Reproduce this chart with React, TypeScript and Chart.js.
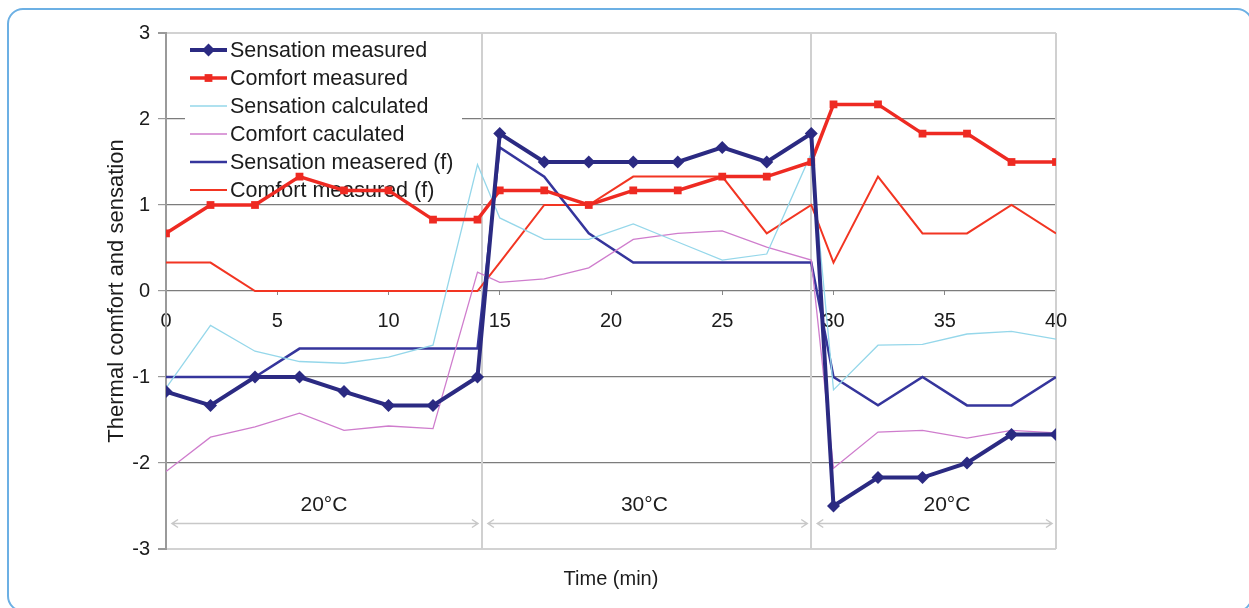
import React, { useEffect, useRef } from 'react';
import { Chart, registerables } from 'chart.js';

Chart.register(...registerables);

// ---- data ----
const times = [0, 2, 4, 6, 8, 10, 12, 14, 15, 17, 19, 21, 23, 25, 27, 29, 30, 32, 34, 36, 38, 40];

const sensationMeasured = [-1.17, -1.33, -1, -1, -1.17, -1.33, -1.33, -1, 1.83, 1.5, 1.5, 1.5, 1.5, 1.67, 1.5, 1.83, -2.5, -2.17, -2.17, -2, -1.67, -1.67];
const comfortMeasured = [0.67, 1, 1, 1.33, 1.17, 1.17, 0.83, 0.83, 1.17, 1.17, 1, 1.17, 1.17, 1.33, 1.33, 1.5, 2.17, 2.17, 1.83, 1.83, 1.5, 1.5];
const sensationCalculated = [-1.13, -0.4, -0.7, -0.82, -0.84, -0.77, -0.63, 1.47, 0.85, 0.6, 0.6, 0.78, 0.57, 0.36, 0.43, 1.6, -1.15, -0.63, -0.62, -0.5, -0.47, -0.56];
const comfortCalculated = [-2.1, -1.7, -1.58, -1.42, -1.62, -1.57, -1.6, 0.22, 0.1, 0.14, 0.27, 0.6, 0.67, 0.7, 0.51, 0.36, -2.06, -1.64, -1.62, -1.71, -1.62, -1.65];
const sensationMeasuredF = [-1, -1, -1, -0.67, -0.67, -0.67, -0.67, -0.67, 1.67, 1.33, 0.67, 0.33, 0.33, 0.33, 0.33, 0.33, -1, -1.33, -1, -1.33, -1.33, -1];
const comfortMeasuredF = [0.33, 0.33, 0, 0, 0, 0, 0, 0, 0.33, 1, 1, 1.33, 1.33, 1.33, 0.67, 1, 0.33, 1.33, 0.67, 0.67, 1, 0.67];

const seriesNames = [
  'Sensation measured',
  'Comfort measured',
  'Sensation calculated',
  'Comfort caculated',
  'Sensation measered (f)',
  'Comfort measured (f)',
];
const seriesValues = [
  sensationMeasured,
  comfortMeasured,
  sensationCalculated,
  comfortCalculated,
  sensationMeasuredF,
  comfortMeasuredF,
];

const xTickValues = [0, 5, 10, 15, 20, 25, 30, 35, 40];
const yTickValues = [-3, -2, -1, 0, 1, 2, 3];

const phaseBounds = [0, 14.2, 29, 40];
const phaseLabels = ['20°C', '30°C', '20°C'];
const phaseLabelX = [7.1, 21.5, 35.1];
const phaseLabelY = -2.49;
const phaseArrowY = -2.7;

const xTitle = 'Time (min)';
const yTitle = 'Thermal comfort and sensation';

// ---- styles ----
const FONT = '"Liberation Sans", Arial, sans-serif';
const TEXT = '#1c1c1c';
const seriesColors = ['#2b2a82', '#ee2a22', '#95d7ea', '#cf7dcd', '#35359c', '#f23522'];
const seriesWidths = [4, 3.5, 1.3, 1.3, 2.5, 2];
const seriesPoints: (string | false)[] = ['rectRot', 'rect', false, false, false, false];
const seriesRadii = [6.5, 5.5, 0, 0, 0, 0];

const decorPlugin = {
  id: 'decor',
  beforeDatasetsDraw(chart: any) {
    const { ctx, chartArea: a, scales } = chart;
    const xs = scales.x;
    const ys = scales.y;
    ctx.save();

    // right border of plot
    ctx.strokeStyle = '#d0d0d0';
    ctx.lineWidth = 2;
    ctx.beginPath();
    ctx.moveTo(a.right, a.top);
    ctx.lineTo(a.right, a.bottom);
    ctx.stroke();

    // phase separators
    for (let i = 1; i < phaseBounds.length - 1; i++) {
      const px = Math.round(xs.getPixelForValue(phaseBounds[i]));
      ctx.beginPath();
      ctx.moveTo(px, a.top);
      ctx.lineTo(px, a.bottom);
      ctx.stroke();
    }

    // arrows
    const ay = Math.round(ys.getPixelForValue(phaseArrowY)) + 0.5;
    ctx.strokeStyle = '#c8c8c8';
    ctx.lineWidth = 1.5;
    for (let i = 0; i < phaseBounds.length - 1; i++) {
      const x0 = xs.getPixelForValue(phaseBounds[i]) + 6;
      const x1 = xs.getPixelForValue(phaseBounds[i + 1]) - 4;
      ctx.beginPath();
      ctx.moveTo(x0, ay);
      ctx.lineTo(x1, ay);
      ctx.moveTo(x0 + 6, ay - 4);
      ctx.lineTo(x0, ay);
      ctx.lineTo(x0 + 6, ay + 4);
      ctx.moveTo(x1 - 6, ay - 4);
      ctx.lineTo(x1, ay);
      ctx.lineTo(x1 - 6, ay + 4);
      ctx.stroke();
    }

    // phase labels
    ctx.fillStyle = TEXT;
    ctx.font = '21px ' + FONT;
    ctx.textAlign = 'center';
    ctx.textBaseline = 'middle';
    for (let i = 0; i < phaseLabels.length; i++) {
      ctx.fillText(phaseLabels[i], xs.getPixelForValue(phaseLabelX[i]), ys.getPixelForValue(phaseLabelY));
    }

    // legend box
    const lx = 185;
    const ly = 36;
    const lw = 277;
    const lh = 166;
    ctx.fillStyle = '#ffffff';
    ctx.fillRect(lx, ly, lw, lh);
    ctx.font = '21.5px ' + FONT;
    ctx.textAlign = 'left';
    ctx.textBaseline = 'middle';
    const dsets = chart.data.datasets;
    for (let i = 0; i < dsets.length; i++) {
      const d = dsets[i];
      const cy = 50 + i * 28;
      ctx.strokeStyle = d.borderColor;
      ctx.lineWidth = d.borderWidth;
      ctx.beginPath();
      ctx.moveTo(190, cy);
      ctx.lineTo(227, cy);
      ctx.stroke();
      const mx = 208.5;
      if (d.pointStyle === 'rectRot') {
        const r = d.pointRadius;
        ctx.fillStyle = d.borderColor;
        ctx.beginPath();
        ctx.moveTo(mx, cy - r);
        ctx.lineTo(mx + r, cy);
        ctx.lineTo(mx, cy + r);
        ctx.lineTo(mx - r, cy);
        ctx.closePath();
        ctx.fill();
      } else if (d.pointStyle === 'rect') {
        const s = Math.SQRT1_2 * d.pointRadius;
        ctx.fillStyle = d.borderColor;
        ctx.fillRect(mx - s, cy - s, 2 * s, 2 * s);
      }
      ctx.fillStyle = TEXT;
      ctx.fillText(d.label, 230, cy + 1);
    }
    ctx.restore();
  },
};

export default function App() {
  const ref = useRef<HTMLCanvasElement | null>(null);

  useEffect(() => {
    document.body.style.overflow = 'hidden';
    const canvas = ref.current;
    if (!canvas) return;
    const datasets = seriesNames.map((name, i) => ({
      label: name,
      data: times.map((t, j) => ({ x: t, y: seriesValues[i][j] })),
      borderColor: seriesColors[i],
      backgroundColor: seriesColors[i],
      borderWidth: seriesWidths[i],
      pointStyle: seriesPoints[i],
      pointRadius: seriesRadii[i],
      pointBorderWidth: 0,
      pointHoverRadius: seriesRadii[i],
      tension: 0,
      fill: false,
      xAxisID: 'x',
      yAxisID: 'y',
    }));

    const chart = new Chart(canvas, {
      type: 'line',
      data: { datasets },
      plugins: [decorPlugin],
      options: {
        animation: false,
        responsive: false,
        devicePixelRatio: 1,
        layout: { padding: { top: 33, right: 193, left: 0, bottom: 0 } },
        plugins: {
          legend: { display: false },
          tooltip: { enabled: false },
        },
        font: { family: FONT },
        scales: {
          x: {
            type: 'linear',
            min: 0,
            max: 40,
            position: { y: 0 } as any,
            afterBuildTicks: (s: any) => {
              s.ticks = xTickValues.map((v) => ({ value: v }));
            },
            ticks: {
              font: { family: FONT, size: 20 },
              color: TEXT,
              padding: 14,
              maxRotation: 0,
              autoSkip: false,
            },
            grid: { drawOnChartArea: false, drawTicks: true, tickLength: 4, color: '#888' },
            border: { display: false },
          },
          xb: {
            type: 'linear',
            position: 'bottom',
            min: 0,
            max: 40,
            ticks: { display: false },
            grid: { display: false, drawTicks: false },
            border: { display: false },
            title: {
              display: true,
              text: xTitle,
              font: { family: FONT, size: 20 },
              color: TEXT,
              padding: { top: 0, bottom: 17 },
            },
            afterFit: (s: any) => {
              s.height = 59;
            },
          },
          y: {
            type: 'linear',
            min: -3,
            max: 3,
            afterBuildTicks: (s: any) => {
              s.ticks = yTickValues.map((v) => ({ value: v }));
            },
            ticks: {
              font: { family: FONT, size: 20 },
              color: TEXT,
              padding: 8,
            },
            grid: {
              color: (c: any) => (Math.abs(c.tick?.value) === 3 ? '#d2d2d2' : '#7c7c7c'),
              lineWidth: (c: any) => (Math.abs(c.tick?.value) === 3 ? 2 : 1.2),
              tickColor: '#999',
              tickLength: 8,
            },
            border: { color: '#9a9a9a', width: 2 },
            title: {
              display: true,
              text: yTitle,
              font: { family: FONT, size: 22 },
              color: TEXT,
              padding: { top: 104, bottom: 0 },
            },
            afterFit: (s: any) => {
              s.width = 166;
            },
          },
        },
      } as any,
    });
    return () => chart.destroy();
  }, []);

  return (
    <div>
      <div
        style={{
          position: 'fixed',
          left: 7,
          top: 8,
          width: 1246,
          height: 604,
          boxSizing: 'border-box',
          border: '2px solid #6cb0e4',
          borderRadius: 16,
        }}
      />
      <canvas
        ref={ref}
        width={1249}
        height={608}
        style={{ position: 'fixed', left: 0, top: 0, width: 1249, height: 608 }}
      />
    </div>
  );
}
